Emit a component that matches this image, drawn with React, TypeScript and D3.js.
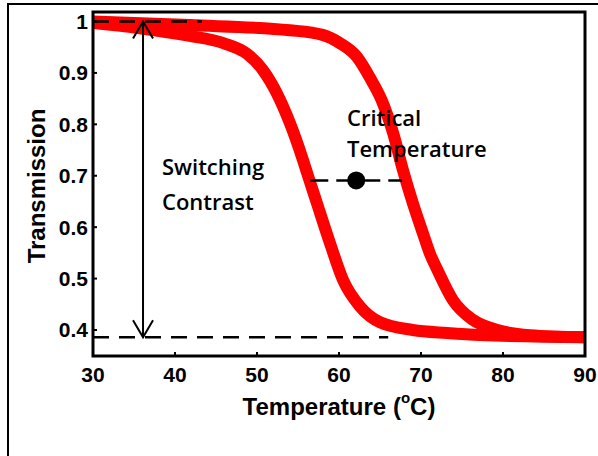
import { curveMonotoneX, line, scaleLinear } from "d3";

// axis ticks
const xTicks = [30, 40, 50, 60, 70, 80, 90];
const yTicks = [0.4, 0.5, 0.6, 0.7, 0.8, 0.9, 1];

// left branch (switches at lower temperature)
const coolTemp = [30, 35.7, 41.8, 45.9, 48.8, 50.7, 52.4, 54, 55.6, 56.2, 57.3, 58.9, 60.5, 62.6, 65, 69, 73.2, 77.2, 90];
const coolTrans = [0.997, 0.987, 0.972, 0.958, 0.937, 0.906, 0.861, 0.803, 0.731, 0.701, 0.647, 0.569, 0.497, 0.445, 0.415, 0.4, 0.394, 0.39, 0.386];

// right branch
const heatTemp = [30, 41.8, 54, 58, 60.1, 62.2, 63.8, 65.2, 66.6, 67.8, 69, 70.3, 71.1, 72, 73.9, 76.3, 79.3, 83.3, 90];
const heatTrans = [1.0, 0.993, 0.983, 0.974, 0.958, 0.931, 0.89, 0.847, 0.783, 0.711, 0.647, 0.585, 0.548, 0.517, 0.458, 0.42, 0.4, 0.39, 0.386];

// annotations
const contrastT = 36.1;
const contrastRange = [1.0, 0.386];
const topGuide = [30, 43.3];
const bottomGuide = [30, 66];
const criticalSpan = [56.5, 67.7];
const criticalPoint = [62.1, 0.691];

const W = 598;
const H = 456;
const left = 93;
const top = 12;
const right = 585;
const bottom = 356;

export default function App() {
  const x = scaleLinear().domain([30, 90]).range([left, right]);
  const y = scaleLinear().domain([0.3494, 1.0185]).range([bottom, top]);

  const path = line<[number, number]>()
    .x((d) => x(d[0]))
    .y((d) => y(d[1]))
    .curve(curveMonotoneX);

  const cool = coolTemp.map((t, i) => [t, coolTrans[i]] as [number, number]);
  const heat = heatTemp.map((t, i) => [t, heatTrans[i]] as [number, number]);

  const ax = x(contrastT);
  const ay1 = y(contrastRange[0]);
  const ay2 = y(contrastRange[1]);

  const tickFont = { fontFamily: "'Liberation Sans', Arial, sans-serif", fontWeight: "bold" as const };
  const noteFont = { fontFamily: "'Open Sans', sans-serif", fontWeight: 600 };

  return (
    <svg width={W} height={H} style={{ position: "absolute", left: 0, top: 0, background: "#fff" }}>
      <defs>
        <clipPath id="plot">
          <rect x={left} y={top} width={right - left} height={bottom - top} />
        </clipPath>
      </defs>
      <rect x={8} y={4} width={W} height={H} fill="none" stroke="#000" strokeWidth={2} />

      <g clipPath="url(#plot)">
        <path d={path(cool) ?? ""} fill="none" stroke="#ff0000" strokeWidth={12} />
        <path d={path(heat) ?? ""} fill="none" stroke="#ff0000" strokeWidth={12} />
      </g>

      {/* guide lines */}
      <line x1={x(topGuide[0])} x2={x(topGuide[1])} y1={y(1)} y2={y(1)} stroke="#000" strokeWidth={2.5} strokeDasharray="16,10" />
      <line x1={x(bottomGuide[0])} x2={x(bottomGuide[1])} y1={ay2} y2={ay2} stroke="#000" strokeWidth={2.5} strokeDasharray="16,10" />

      {/* switching contrast arrow */}
      <line x1={ax} x2={ax} y1={ay1} y2={ay2} stroke="#000" strokeWidth={2} />
      <polyline points={`${ax - 10},${ay1 + 17} ${ax},${ay1} ${ax + 10},${ay1 + 17}`} fill="none" stroke="#000" strokeWidth={2} />
      <polyline points={`${ax - 10},${ay2 - 17} ${ax},${ay2} ${ax + 10},${ay2 - 17}`} fill="none" stroke="#000" strokeWidth={2} />

      {/* critical temperature */}
      <line x1={x(criticalSpan[0])} x2={x(criticalSpan[1])} y1={y(criticalPoint[1])} y2={y(criticalPoint[1])} stroke="#000" strokeWidth={2.5} strokeDasharray="18,8" />
      <circle cx={x(criticalPoint[0])} cy={y(criticalPoint[1])} r={9} fill="#000" />

      <text x={162} y={175} fontSize={22} {...noteFont}>Switching</text>
      <text x={162} y={210} fontSize={22} {...noteFont}>Contrast</text>
      <text x={347} y={126} fontSize={22} {...noteFont}>Critical</text>
      <text x={347} y={157} fontSize={22} {...noteFont}>Temperature</text>

      {/* frame */}
      <rect x={left} y={top} width={right - left} height={bottom - top} fill="none" stroke="#000" strokeWidth={3} />

      {xTicks.map((t) => (
        <g key={t}>
          <line x1={x(t)} x2={x(t)} y1={bottom} y2={bottom - 4} stroke="#000" strokeWidth={2} />
          <text x={x(t)} y={382} textAnchor="middle" fontSize={21} {...tickFont}>{t}</text>
        </g>
      ))}
      {yTicks.map((t) => (
        <g key={t}>
          <line x1={left} x2={left + 4} y1={y(t)} y2={y(t)} stroke="#000" strokeWidth={2} />
          <text x={88} y={y(t)} dy="0.35em" textAnchor="end" fontSize={21} {...tickFont}>{t === 1 ? "1" : t.toFixed(1)}</text>
        </g>
      ))}

      <text x={339} y={415} textAnchor="middle" fontSize={24} {...tickFont}>
        Temperature (<tspan fontSize={15} dy={-12}>o</tspan><tspan dy={12}>C)</tspan>
      </text>
      <text transform="translate(45,186) rotate(-90)" textAnchor="middle" fontSize={24} {...tickFont}>Transmission</text>
    </svg>
  );
}
